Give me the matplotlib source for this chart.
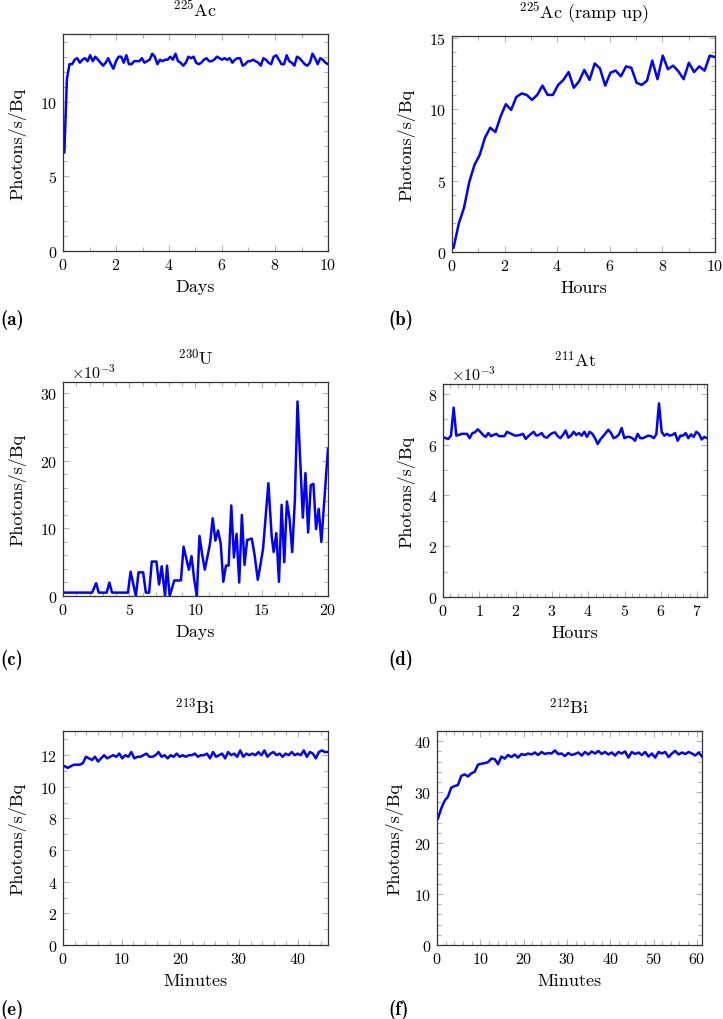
import numpy as np
import matplotlib
matplotlib.use("Agg")
import matplotlib.pyplot as plt
from matplotlib.ticker import MultipleLocator, ScalarFormatter

plt.rcParams['font.family'] = 'serif'
plt.rcParams['font.serif'] = ['cmr10']
plt.rcParams['mathtext.fontset'] = 'cm'
plt.rcParams['axes.unicode_minus'] = False
plt.rcParams['axes.formatter.use_mathtext'] = True

# (a) 225Ac, days
ac_vals = [6.6, 11.5, 12.5, 12.5, 12.8, 12.9, 12.6, 12.8, 12.9, 12.7, 13.1, 12.7, 13.0, 12.8,
           12.6, 12.4, 12.6, 12.9, 12.5, 12.2, 12.7, 13.0, 13.0, 12.6, 13.1, 12.5, 12.5, 12.7,
           12.7, 12.7, 12.9, 12.6, 12.7, 12.8, 13.2, 13.0, 12.5, 12.8, 12.7, 12.8, 12.8, 13.0,
           12.8, 13.2, 12.7, 12.6, 12.4, 12.6, 13.0, 12.9, 13.0, 12.6, 12.5, 12.6, 12.8, 12.9,
           12.7, 12.7, 12.8, 13.0, 12.9, 12.8, 12.9, 12.8, 12.9, 12.6, 12.8, 12.9, 12.9, 12.4,
           12.5, 12.7, 12.7, 12.8, 12.7, 12.6, 12.4, 12.9, 12.8, 12.6, 12.5, 13.0, 13.1, 12.8,
           12.5, 12.5, 13.1, 12.7, 12.6, 12.4, 13.0, 12.9, 12.7, 12.5, 12.4, 12.6, 13.2, 12.9,
           12.5, 12.9, 12.8, 12.6, 12.5]
ac_days = np.linspace(0.05, 10, len(ac_vals))

# (b) 225Ac ramp up, hours
ramp_vals = [0.3, 2.0, 3.1, 4.9, 6.1, 6.8, 8.0, 8.7, 8.4, 9.5, 10.35, 9.95, 10.85, 11.1, 11.0,
             10.65, 11.0, 11.65, 11.0, 11.0, 11.7, 12.05, 12.6, 11.5, 11.95, 12.75, 12.05, 13.2,
             12.85, 11.65, 12.55, 12.7, 12.3, 13.0, 12.9, 11.85, 11.7, 12.0, 13.4, 12.1, 13.75,
             12.8, 13.05, 12.65, 12.1, 13.25, 12.6, 13.0, 12.7, 13.75, 13.65]
ramp_hours = np.linspace(0.06, 10, len(ramp_vals))

# (c) 230U, days (values in units of 1e-3)
u_days = [0.0, 2.2, 2.5, 2.7, 3.3, 3.5, 3.7, 4.9, 5.1, 5.5, 5.7, 6.05, 6.25, 6.5, 6.7, 7.05,
          7.25, 7.45, 7.7, 7.85, 8.05, 8.4, 8.9, 9.1, 9.3, 9.5, 9.7, 9.9, 10.1, 10.3, 10.5,
          10.7, 10.9, 11.1, 11.3, 11.5, 11.7, 11.9, 12.1, 12.3, 12.5, 12.7, 12.9, 13.1, 13.3,
          13.5, 13.7, 13.9, 14.25, 14.45, 14.7, 14.9, 15.1, 15.5, 15.75, 15.9, 16.1, 16.3,
          16.5, 16.7, 16.9, 17.1, 17.3, 17.5, 17.7, 18.1, 18.3, 18.5, 18.7, 18.9, 19.1, 19.3,
          19.5, 20.0]
u_vals = [0.5, 0.5, 1.9, 0.5, 0.5, 2.0, 0.5, 0.5, 3.6, 0.0, 3.5, 3.5, 0.5, 0.5, 5.1, 5.1,
          1.7, 4.4, 0.0, 4.5, 0.0, 2.3, 2.3, 7.3, 5.6, 3.9, 5.9, 2.5, 0.0, 8.9, 6.2, 3.9, 5.8,
          7.8, 11.5, 8.2, 9.7, 7.8, 2.1, 4.5, 4.5, 13.4, 5.7, 9.2, 2.0, 12.0, 4.6, 8.3, 8.5,
          6.2, 2.4, 4.6, 7.0, 16.7, 8.8, 6.5, 9.3, 2.1, 13.5, 5.0, 14.0, 11.4, 6.5, 14.2, 28.8,
          11.6, 18.2, 9.4, 16.4, 16.6, 9.9, 12.9, 8.0, 21.8]

# (d) 211At, hours (values in units of 1e-3)
at_vals = [6.3, 6.25, 6.22, 6.35, 7.45, 6.35, 6.38, 6.42, 6.42, 6.42, 6.25, 6.45, 6.48, 6.6,
           6.5, 6.38, 6.3, 6.45, 6.33, 6.38, 6.42, 6.33, 6.33, 6.33, 6.5, 6.45, 6.4, 6.35,
           6.36, 6.38, 6.42, 6.22, 6.33, 6.42, 6.5, 6.35, 6.38, 6.45, 6.3, 6.27, 6.38, 6.45,
           6.48, 6.33, 6.25, 6.38, 6.55, 6.27, 6.35, 6.5, 6.38, 6.45, 6.35, 6.5, 6.3, 6.5,
           6.42, 6.25, 6.02, 6.2, 6.32, 6.45, 6.58, 6.45, 6.25, 6.3, 6.4, 6.65, 6.25, 6.3, 6.3,
           6.25, 6.15, 6.42, 6.25, 6.25, 6.3, 6.35, 6.33, 6.25, 6.4, 7.62, 6.5, 6.35, 6.42,
           6.35, 6.38, 6.45, 6.15, 6.35, 6.35, 6.45, 6.25, 6.4, 6.3, 6.5, 6.42, 6.2, 6.3, 6.25]
at_hours = np.linspace(0, 7.27, len(at_vals))

# (e) 213Bi, minutes
bi213_vals = [11.3, 11.2, 11.3, 11.4, 11.4, 11.4, 11.5, 11.9, 11.8, 11.7, 11.9, 11.6, 11.8, 12.0,
              11.8, 11.9, 12.0, 11.9, 12.1, 11.8, 12.0, 11.9, 12.2, 11.8, 11.9, 11.9, 12.0, 12.1,
              11.9, 11.9, 12.0, 12.2, 11.9, 12.0, 11.8, 12.0, 11.9, 12.1, 11.9, 12.0, 11.9, 12.0,
              12.0, 12.1, 11.9, 12.0, 12.0, 12.1, 11.8, 12.2, 11.9, 12.0, 12.1, 11.8, 12.2, 12.0,
              12.1, 11.9, 12.3, 11.9, 12.1, 12.0, 12.1, 12.0, 12.2, 12.0, 12.3, 11.9, 12.1, 12.2,
              12.0, 12.1, 11.9, 12.1, 12.0, 12.2, 12.0, 12.1, 12.0, 12.3, 11.9, 12.2, 12.1, 11.8,
              12.2, 12.3, 12.2, 12.2]
bi213_min = np.linspace(0.3, 45.2, len(bi213_vals))

# (f) 212Bi, minutes
bi212_vals = [24.8, 26.8, 28.3, 29.1, 30.9, 31.2, 31.4, 33.2, 33.5, 33.1, 33.7, 34.0, 35.4, 35.6,
              35.7, 35.9, 36.6, 36.5, 35.5, 37.0, 36.6, 37.3, 36.9, 37.4, 36.8, 37.5, 37.3, 37.6,
              37.4, 37.8, 37.3, 37.9, 37.5, 37.7, 37.6, 38.2, 37.5, 37.6, 37.1, 37.7, 37.3, 37.5,
              37.8, 37.2, 37.9, 37.4, 38.0, 37.6, 38.1, 37.5, 37.9, 37.4, 37.8, 37.2, 37.9, 37.6,
              38.0, 36.8, 37.9, 37.5, 37.8, 37.3, 37.9, 37.0, 37.6, 36.8, 37.9, 37.6, 37.9, 36.9,
              37.6, 38.1, 37.4, 37.8, 37.5, 37.9, 37.6, 37.2, 37.8, 37.0]
bi212_min = np.linspace(0.2, 61.2, len(bi212_vals))

W, H = 723, 1020
fig = plt.figure(figsize=(W / 100, H / 100), dpi=100)


def panel(box, x, y, title, xlabel, xmax, xmaj, xmin, ymaj, ymin, ylab_right, tag, tag_xy, milli=False):
    left, top, right, bottom = box
    ax = fig.add_axes([left / W, 1 - bottom / H, (right - left) / W, (bottom - top) / H])
    y = np.asarray(y, dtype=float)
    if milli:
        y = y * 1e-3
    ax.plot(x, y, color='#0000ff', lw=1.8)
    ax.set_xlim(0, xmax)
    ax.set_ylim(0, 1.1 * y.max())
    ax.xaxis.set_major_locator(MultipleLocator(xmaj))
    ax.xaxis.set_minor_locator(MultipleLocator(xmin))
    scale = 1e-3 if milli else 1
    ax.yaxis.set_major_locator(MultipleLocator(ymaj * scale))
    ax.yaxis.set_minor_locator(MultipleLocator(ymin * scale))
    if milli:
        fmt = ScalarFormatter(useMathText=True)
        fmt.set_powerlimits((-3, -3))
        ax.yaxis.set_major_formatter(fmt)
        ax.yaxis.get_offset_text().set_fontsize(11.5)
        ax.yaxis.get_offset_text().set_x(8 / (right - left))
    ax.tick_params(which='both', direction='in', top=True, right=True,
                   color='#b4b4b4', width=0.8, labelsize=11.5, pad=4)
    ax.tick_params(which='major', length=4.5)
    ax.tick_params(which='minor', length=2.8)
    for s in ax.spines.values():
        s.set_color('#333333')
        s.set_linewidth(0.9)
    ax.set_title(title, fontsize=13, pad=13)
    ax.set_xlabel(xlabel, fontsize=13)
    ax.xaxis.set_label_coords(0.5, -28 / (bottom - top))
    ax.set_ylabel('Photons/s/Bq', fontsize=13)
    ax.yaxis.set_label_coords((ylab_right - left) / (right - left), 0.5)
    fig.text(tag_xy[0] / W, 1 - tag_xy[1] / H, tag, fontfamily='cmb10', fontsize=13.5,
             ha='left', va='center')
    return ax


panel((63, 35, 328, 252), ac_days, ac_vals, r'$^{225}$Ac', 'Days', 10, 2, 1, 5, 1,
      26, '(a)', (0, 320))
panel((452, 37, 715, 253), ramp_hours, ramp_vals, r'$^{225}$Ac (ramp up)', 'Hours', 10, 2, 1, 5, 1,
      415, '(b)', (388, 320))
panel((63, 383, 328, 597), u_days, u_vals, r'$^{230}$U', 'Days', 20, 5, 1, 10, 2,
      26, '(c)', (0, 660), milli=True)
panel((443, 385, 707, 598), at_hours, at_vals, r'$^{211}$At', 'Hours', 7.27, 1, 0.2, 2, 1,
      415, '(d)', (388, 660), milli=True)
panel((63, 732, 328, 946), bi213_min, bi213_vals, r'$^{213}$Bi', 'Minutes', 45.2, 10, 2, 2, 1,
      26, '(e)', (0, 1010))
panel((437, 732, 702, 946), bi212_min, bi212_vals, r'$^{212}$Bi', 'Minutes', 61.2, 10, 2, 10, 2,
      403, '(f)', (388, 1010))

fig.savefig('out.png', dpi=100)
